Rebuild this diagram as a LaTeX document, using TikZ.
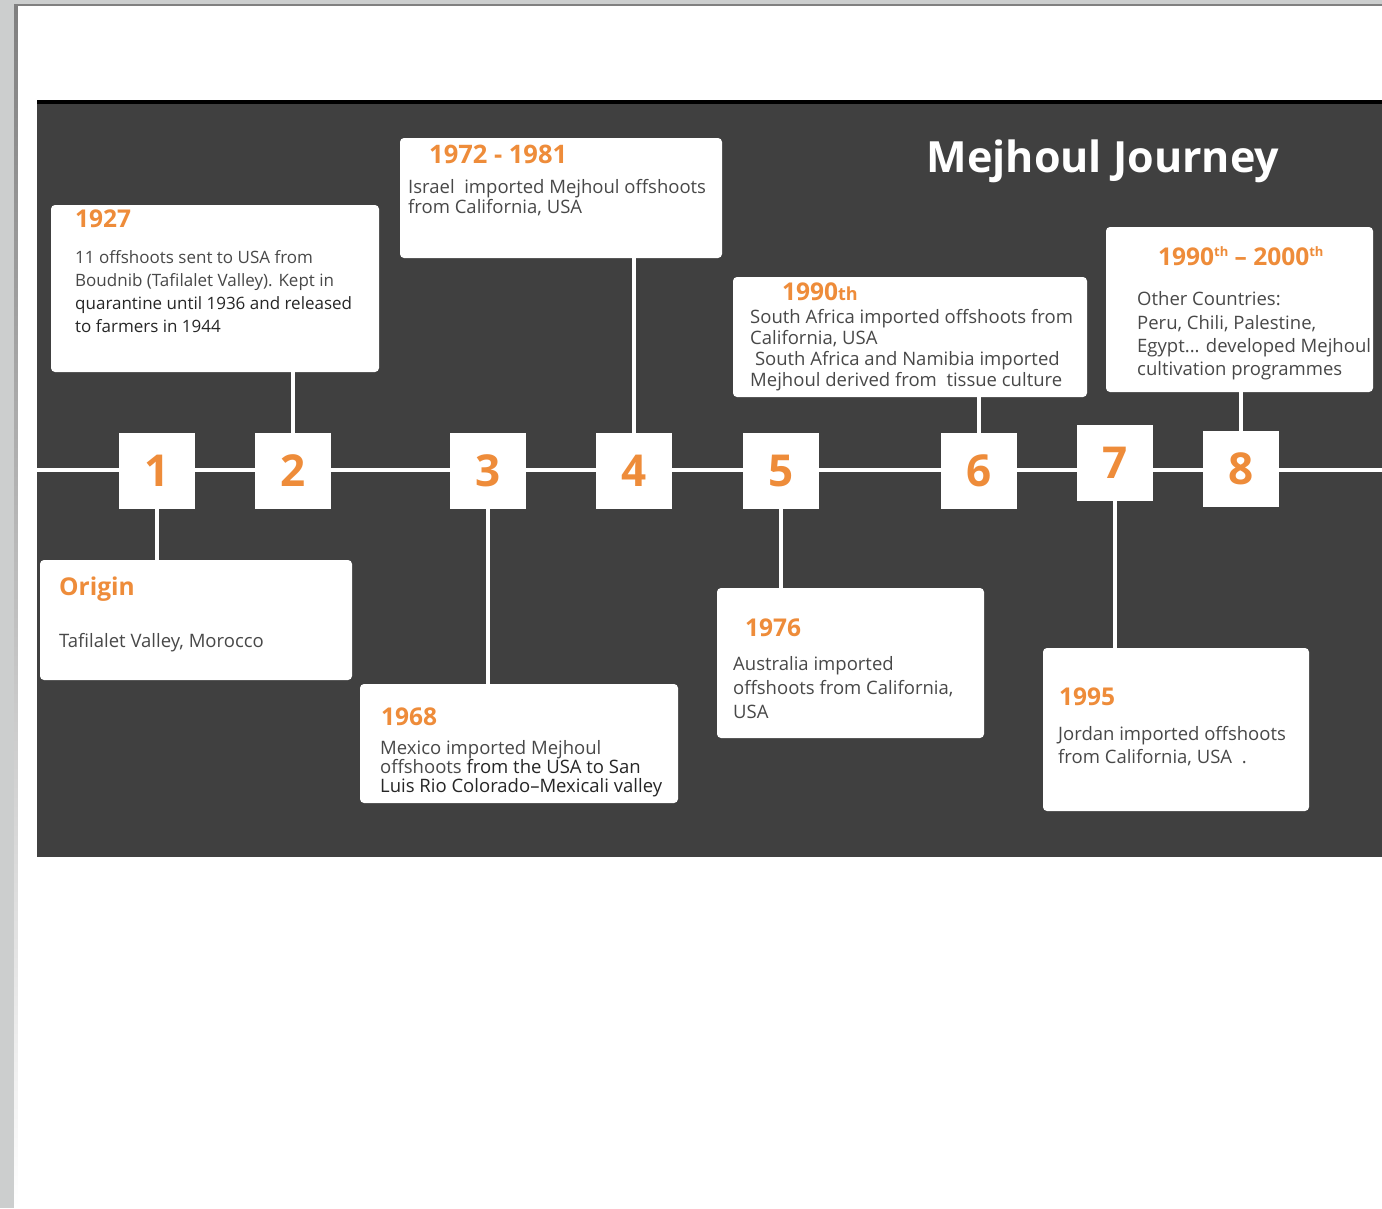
\documentclass[tikz,border=0pt]{standalone}
\usepackage{fontspec}
\setmainfont{Open Sans}
\definecolor{orng}{RGB}{238,140,58}
\definecolor{darkbg}{RGB}{64,64,64}
\definecolor{txt}{RGB}{72,72,72}
\definecolor{pagegray}{RGB}{204,206,206}
\definecolor{shade}{RGB}{160,162,162}
\begin{document}
\begin{tikzpicture}[x=1pt,y=-1pt,
  card/.style={fill=white, rounded corners=4pt, inner sep=0pt},
  sq/.style={fill=white, minimum width=76pt, minimum height=76pt, inner sep=0pt,
    text=orng, font=\fontsize{44}{44}\selectfont\bfseries},
  yr/.style={anchor=base west, inner sep=0pt, text=orng, font=\fontsize{24.5}{24.5}\selectfont\bfseries},
  bd/.style={anchor=base west, inner sep=0pt, text=txt, font=\fontsize{18.5}{18.5}\selectfont},
  bds/.style={bd, font=\fontsize{17}{17}\selectfont},
  bk/.style={bd, text=black!85},
  conn/.style={draw=white, line width=3.5pt}
]
\useasboundingbox (0,0) rectangle (1382,1208);
% page background
\fill[pagegray] (0,0) rectangle (1382,1208);
\fill[shade] (14,4) rectangle (1382,1208);
\fill[white] (18,6) rectangle (1382,1208);
% dark panel
\fill[darkbg] (37,100) rectangle (1382,857);
\fill[black] (37,100) rectangle (1382,104);
% title
\node[anchor=base, inner sep=0pt, text=white, font=\fontsize{43}{43}\selectfont\bfseries] (title) at (1103,172) {Mejhoul Journey};
% timeline
\coordinate (tlL) at (37,470);
\coordinate (tlR) at (1382,470);
\draw[conn] (tlL) -- (tlR);
% number squares
\node[sq] (s1) at (157,471) {1};
\node[sq] (s2) at (293,471) {2};
\node[sq] (s3) at (488,471) {3};
\node[sq] (s4) at (634,471) {4};
\node[sq] (s5) at (781,471) {5};
\node[sq] (s6) at (979,471) {6};
\node[sq] (s7) at (1115,463) {7};
\node[sq] (s8) at (1241,469) {8};
% cards
\node[card, minimum width=328pt, minimum height=167pt] (c2) at (215,288.5) {};
\node[card, minimum width=322pt, minimum height=120pt] (c4) at (561,198) {};
\node[card, minimum width=354pt, minimum height=120pt] (c6) at (910,337) {};
\node[card, minimum width=267pt, minimum height=165pt] (c8) at (1239.5,309.5) {};
\node[card, minimum width=312pt, minimum height=120pt] (c1) at (196,620) {};
\node[card, minimum width=318pt, minimum height=119pt] (c3) at (519,743.5) {};
\node[card, minimum width=267pt, minimum height=150pt] (c5) at (850.5,663) {};
\node[card, minimum width=266pt, minimum height=163pt] (c7) at (1176,729.5) {};
% connectors
\draw[conn] (s1.south) -- (s1.south |- c1.north);
\draw[conn] (s2.north) -- (s2.north |- c2.south);
\draw[conn] (s3.south) -- (s3.south |- c3.north);
\draw[conn] (s4.north) -- (s4.north |- c4.south);
\draw[conn] (s5.south) -- (s5.south |- c5.north);
\draw[conn] (s6.north) -- (s6.north |- c6.south);
\draw[conn] (s7.south) -- (s7.south |- c7.north);
\draw[conn] (s8.north) -- (s8.north |- c8.south);
% card 2 : 1927
\node[yr] (y2) at (75,227) {1927};
\node[bds] (t2a) at (75,263) {11 offshoots sent to USA from};
\node[bds] (t2b) at (75,286) {Boudnib (Tafilalet Valley). Kept in};
\node[bds, text=black!85] (t2c) at (75,309) {quarantine until 1936 and released};
\node[bds, text=black!85] (t2d) at (75,332) {to farmers in 1944};
% card 4 : 1972 - 1981
\node[yr, font=\fontsize{25.5}{25.5}\selectfont\bfseries] (y4) at (429,163) {1972 - 1981};
\node[bd] (t4a) at (408,193) {Israel\ \ imported Mejhoul offshoots};
\node[bd] (t4b) at (408,213) {from California, USA};
% card 6 : 1990th
\node[yr] (y6) at (782,300) {1990{\fontsize{18}{18}\selectfont th}};
\node[bd] (t6a) at (750,323) {South Africa imported offshoots from};
\node[bd] (t6b) at (750,344) {California, USA};
\node[bd] (t6c) at (750,365) {\ South Africa and Namibia imported};
\node[bd] (t6d) at (750,386) {Mejhoul derived from\ \ tissue culture};
% card 8 : 1990th - 2000th
\node[yr] (y8) at (1158,265) {1990\raisebox{9pt}{\fontsize{13}{13}\selectfont th} – 2000\raisebox{9pt}{\fontsize{13}{13}\selectfont th}};
\node[bd] (t8a) at (1137,305) {Other Countries:};
\node[bd] (t8b) at (1137,329) {Peru, Chili, Palestine,};
\node[bd] (t8c) at (1137,352) {Egypt... developed Mejhoul};
\node[bd] (t8d) at (1137,375) {cultivation programmes};
% card 1 : Origin
\node[yr] (y1) at (59,595) {Origin};
\node[bd] (t1a) at (59,647) {Tafilalet Valley, Morocco};
% card 3 : 1968
\node[yr] (y3) at (381,725) {1968};
\node[bd] (t3a) at (380,754) {Mexico imported Mejhoul};
\node[bd] (t3b) at (380,773) {offshoots \textcolor{black!85}{from the USA to San}};
\node[bk] (t3c) at (380,792) {Luis Rio Colorado–Mexicali valley};
% card 5 : 1976
\node[yr] (y5) at (745,636) {1976};
\node[bd] (t5a) at (733,670) {Australia imported};
\node[bd] (t5b) at (733,694) {offshoots from California,};
\node[bd] (t5c) at (733,718) {USA};
% card 7 : 1995
\node[yr] (y7) at (1059,705) {1995};
\node[bd] (t7a) at (1058,740) {Jordan imported offshoots};
\node[bd] (t7b) at (1058,763) {from California, USA\ \ .};
\end{tikzpicture}
\end{document}
